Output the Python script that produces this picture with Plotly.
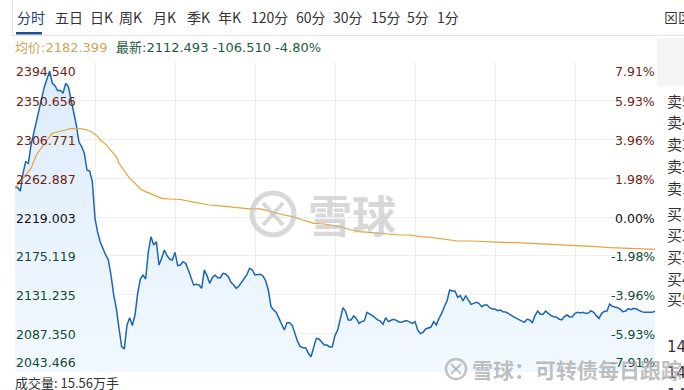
import plotly.graph_objects as go

# ---------------- data ----------------
prev_close = 2219.003
price_levels = [2043.466, 2087.350, 2131.235, 2175.119, 2219.003, 2262.887, 2306.771, 2350.656, 2394.540]
price_labels = ["2043.466", "2087.350", "2131.235", "2175.119", "2219.003", "2262.887", "2306.771", "2350.656", "2394.540"]
pct_labels = ["-7.91%", "-5.93%", "-3.96%", "-1.98%", "0.00%", "1.98%", "3.96%", "5.93%", "7.91%"]

minutes = list(range(241))
price = [
    2253.4, 2252.2, 2248.4, 2268.4, 2281.7, 2279.8, 2300.5, 2313.8, 2325.1, 2338.3,
    2353.4, 2366.6, 2375.3, 2384.3, 2370.4, 2367.7, 2362.1, 2362.5, 2359.1, 2370.4,
    2366.6, 2351.5, 2334.5, 2323.2, 2303.6, 2298.7, 2291.1, 2272.2, 2271.1, 2259.0,
    2217.5, 2201.6, 2190.3, 2182.4, 2176.0, 2170.3, 2153.3, 2130.7, 2115.6, 2093.0,
    2072.2, 2069.5, 2096.7, 2105.0, 2096.0, 2108.0, 2132.6, 2148.8, 2153.3, 2148.8,
    2179.7, 2196.7, 2187.3, 2191.1, 2164.6, 2172.2, 2181.6, 2175.2, 2171.4, 2170.3,
    2179.0, 2163.9, 2164.6, 2168.4, 2166.5, 2159.0, 2151.4, 2142.0, 2142.7, 2142.0,
    2138.2, 2159.0, 2152.6, 2143.9, 2150.3, 2153.3, 2150.3, 2150.3, 2155.2, 2154.5,
    2151.4, 2145.0, 2142.0, 2138.2, 2140.9, 2145.0, 2148.8, 2154.1, 2160.9, 2159.0,
    2153.3, 2153.3, 2154.1, 2152.2, 2146.5, 2136.3, 2117.4, 2113.7, 2111.0, 2104.2,
    2096.7, 2091.0, 2099.3, 2099.3, 2096.0, 2087.3, 2077.8, 2072.1, 2071.0, 2071.0,
    2064.6, 2060.8, 2070.3, 2081.6, 2080.8, 2077.8, 2074.0, 2074.0, 2071.8, 2072.1,
    2085.0, 2091.0, 2104.2, 2116.3, 2111.8, 2102.4, 2102.4, 2106.9, 2104.2, 2098.6,
    2100.5, 2101.6, 2111.0, 2109.5, 2107.3, 2105.0, 2102.4, 2101.2, 2097.4, 2105.0,
    2100.5, 2102.0, 2103.1, 2102.0, 2100.1, 2099.7, 2101.2, 2101.6, 2100.5, 2098.6,
    2100.5, 2091.0, 2086.9, 2088.4, 2092.2, 2093.7, 2094.4, 2100.5, 2096.7, 2104.2,
    2109.9, 2117.4, 2123.9, 2136.3, 2135.2, 2135.2, 2128.0, 2129.9, 2123.9, 2129.9,
    2125.0, 2120.1, 2121.2, 2122.4, 2121.2, 2117.4, 2119.3, 2119.3, 2116.3, 2114.8,
    2114.8, 2112.9, 2113.7, 2111.8, 2111.4, 2109.9, 2108.0, 2105.8, 2104.2, 2102.0,
    2100.5, 2099.7, 2103.1, 2102.4, 2099.3, 2107.3, 2112.5, 2108.8, 2108.8, 2112.5,
    2109.9, 2107.3, 2106.1, 2105.8, 2103.5, 2102.4, 2106.1, 2108.0, 2105.8, 2106.1,
    2109.9, 2111.0, 2110.3, 2111.0, 2109.9, 2110.3, 2112.9, 2111.0, 2107.3, 2104.2,
    2109.9, 2112.2, 2112.5, 2120.5, 2117.8, 2117.1, 2116.3, 2114.4, 2111.8, 2112.5,
    2115.2, 2114.0, 2115.5, 2114.8, 2112.9, 2111.8, 2111.0, 2111.0, 2111.0, 2111.0, 2112.493,
]

avg_minutes = [0, 3, 6, 8, 11, 13, 14, 17, 19, 21, 23, 25, 27, 29, 31, 32, 34, 36, 38, 39,
               41, 43, 45, 47, 49, 52, 55, 58, 62, 66, 69, 73, 77, 81, 84, 88, 92, 94, 97, 101,
               104, 108, 112, 116, 119, 122, 126, 129, 133, 137, 141, 144, 148, 152, 156, 159, 163, 166, 171, 176,
               179, 183, 188, 193, 198, 203, 208, 213, 218, 223, 228, 233, 240]
avg_price = [2251.5, 2262.8, 2274.1, 2289.2, 2302.4, 2310.0, 2313.8, 2315.6, 2317.5, 2319.4,
             2319.4, 2318.7, 2317.5, 2314.9, 2310.0, 2306.2, 2301.3, 2294.9, 2287.3, 2279.8,
             2271.1, 2262.8, 2257.1, 2250.7, 2247.7, 2243.9, 2240.1, 2239.4, 2238.8, 2236.4,
             2234.5, 2232.6, 2231.5, 2230.3, 2229.6, 2228.1, 2228.1, 2226.9, 2224.3, 2221.3,
             2219.4, 2215.6, 2211.8, 2211.1, 2209.2, 2208.1, 2204.3, 2202.4, 2201.6, 2200.5,
             2199.4, 2198.6, 2198.6, 2196.7, 2196.0, 2194.9, 2193.0, 2191.8, 2191.8, 2191.1,
             2190.3, 2190.3, 2189.9, 2189.2, 2188.1, 2187.3, 2187.3, 2186.5, 2185.4, 2184.3,
             2183.5, 2183.5, 2182.399]

tabs = ["分时", "五日", "日K", "周K", "月K", "季K", "年K", "120分", "60分", "30分", "15分", "5分", "1分"]
book_labels = ["卖5", "卖4", "卖3", "卖2", "卖1", "买1", "买2", "买3", "买4", "买5"]
legend_avg = "均价:2182.399"
legend_last = "最新:2112.493 -106.510 -4.80%"
volume_text = "成交量: 15.56万手"

# ---------------- layout geometry ----------------
W, H = 684, 390
L, R, T, B = 15, 29, 62, 18
PW, PH = W - L - R, H - T - B


def px(x, y):
    return (x - L) / PW, 1 - (y - T) / PH


NUM = "DejaVu Sans, Noto Sans CJK SC, sans-serif"
CJK = "Noto Sans CJK SC, sans-serif"
UP, DOWN = "#6e2414", "#124b30"

fig = go.Figure()
ymin, ymax = price_levels[0], price_levels[-1]

fig.add_trace(go.Scatter(x=minutes, y=[ymin] * len(minutes), mode="lines",
                         line=dict(width=0), hoverinfo="skip", showlegend=False))
fig.add_trace(go.Scatter(
    x=minutes, y=price, mode="lines", fill="tonexty",
    fillgradient=dict(type="vertical", start=ymin, stop=ymax,
                      colorscale=[[0, "#f2f8fe"], [1, "#dcecfa"]]),
    line=dict(color="#1a66b3", width=1.5), showlegend=False))
fig.add_trace(go.Scatter(x=avg_minutes, y=avg_price, mode="lines",
                         line=dict(color="#e6a23a", width=1.2), showlegend=False))

ann = []
# y labels
for i, (lv, pl, pc) in enumerate(zip(price_levels, price_labels, pct_labels)):
    col = UP if lv > prev_close + 1e-6 else (DOWN if lv < prev_close - 1e-6 else "#111111")
    if i == len(price_levels) - 1:
        ya, ys = "top", 0
    elif i == 0:
        ya, ys = "bottom", 0
    else:
        ya, ys = "middle", -1
    ann.append(dict(x=0, y=lv, xref="paper", yref="y", text=pl, showarrow=False,
                    xanchor="left", yanchor=ya, yshift=ys, xshift=-1,
                    font=dict(family=NUM, size=12.5, color=col)))
    ann.append(dict(x=1, y=lv, xref="paper", yref="y", text=pc, showarrow=False,
                    xanchor="right", yanchor=ya, yshift=ys, xshift=2,
                    font=dict(family=NUM, size=12.5, color=col)))

# legend line
ax, ay = px(13, 47)
ann.append(dict(x=ax, y=ay, xref="paper", yref="paper", text=legend_avg, showarrow=False,
                xanchor="left", yanchor="middle", font=dict(family=NUM, size=13, color="#c9a55c")))
ax, ay = px(114, 47)
ann.append(dict(x=ax, y=ay, xref="paper", yref="paper", text=legend_last, showarrow=False,
                xanchor="left", yanchor="middle", font=dict(family=NUM, size=13, color="#1d5b3f")))

# tabs
tab_x = [15, 53, 88, 117, 151, 185, 216, 249, 294, 331, 369, 405, 435]
for t, x in zip(tabs, tab_x):
    ax, ay = px(x, 17)
    ann.append(dict(x=ax, y=ay, xref="paper", yref="paper", text=t, showarrow=False,
                    xanchor="left", yanchor="middle",
                    font=dict(family=CJK, size=14, color="#1d3f6e" if t == "分时" else "#333333")))
ax, ay = px(662, 17)
ann.append(dict(x=ax, y=ay, xref="paper", yref="paper", text="⊠区", showarrow=False,
                xanchor="left", yanchor="middle", font=dict(family=CJK, size=14, color="#333333")))

# order book labels (right panel)
book_y = [101, 121, 143, 165, 187, 213, 234, 256, 278, 298]
for t, y in zip(book_labels, book_y):
    ax, ay = px(665, y)
    ann.append(dict(x=ax, y=ay, xref="paper", yref="paper", text=t, showarrow=False,
                    xanchor="left", yanchor="middle", font=dict(family=CJK, size=15, color="#333333")))
for y in [347, 373, 395]:
    ax, ay = px(665, y)
    ann.append(dict(x=ax, y=ay, xref="paper", yref="paper", text="14:", showarrow=False,
                    xanchor="left", yanchor="middle", font=dict(family=NUM, size=15, color="#333333")))

# volume
ax, ay = px(13, 382)
ann.append(dict(x=ax, y=ay, xref="paper", yref="paper", text=volume_text, showarrow=False,
                xanchor="left", yanchor="middle", font=dict(family=CJK, size=13, color="#333333")))

# watermarks
ax, ay = px(352, 214)
ann.append(dict(x=ax, y=ay, xref="paper", yref="paper", text="雪球", showarrow=False,
                xanchor="center", yanchor="middle",
                font=dict(family=CJK, size=44, color="rgba(190,190,190,0.6)", weight=700)))
ax, ay = px(470, 369)
ann.append(dict(x=ax, y=ay, xref="paper", yref="paper", text="雪球：可转债每日跟踪", showarrow=False,
                xanchor="left", yanchor="middle",
                font=dict(family=CJK, size=21, color="rgba(170,170,170,0.75)", weight=700)))

shapes = []


def rect(x0, y0, x1, y1, **kw):
    a0, b0 = px(x0, y0)
    a1, b1 = px(x1, y1)
    shapes.append(dict(type="rect", xref="paper", yref="paper", x0=a0, y0=b0, x1=a1, y1=b1, **kw))


def line(x0, y0, x1, y1, **kw):
    a0, b0 = px(x0, y0)
    a1, b1 = px(x1, y1)
    shapes.append(dict(type="line", xref="paper", yref="paper", x0=a0, y0=b0, x1=a1, y1=b1, **kw))


def circle(cx, cy, r, **kw):
    a0, b0 = px(cx - r, cy - r)
    a1, b1 = px(cx + r, cy + r)
    shapes.append(dict(type="circle", xref="paper", yref="paper", x0=a0, y0=b0, x1=a1, y1=b1, **kw))


line(12, 35.5, 684, 35.5, line=dict(color="#e2e2e2", width=1))
line(12.5, 0, 12.5, 35.5, line=dict(color="#e2e2e2", width=1))
rect(16, 32, 42, 34.5, line=dict(width=0), fillcolor="#1f4f8f")
rect(657, 38, 684, 86, line=dict(width=0), fillcolor="#f4f4f4")

# centre logo
circle(273, 214, 21, line=dict(color="rgba(195,195,195,0.65)", width=5))
line(263, 203, 283, 225, line=dict(color="rgba(195,195,195,0.65)", width=4))
line(263, 225, 283, 203, line=dict(color="rgba(195,195,195,0.65)", width=4))
# bottom logo
circle(456, 369, 10, line=dict(color="rgba(170,170,170,0.7)", width=2.5))
line(451, 364, 461, 374, line=dict(color="rgba(170,170,170,0.7)", width=2))
line(451, 374, 461, 364, line=dict(color="rgba(170,170,170,0.7)", width=2))

fig.update_layout(
    width=W, height=H, margin=dict(l=L, r=R, t=T, b=B),
    paper_bgcolor="white", plot_bgcolor="white",
    showlegend=False, annotations=ann, shapes=shapes,
    xaxis=dict(range=[0, 240], tickvals=list(range(0, 241, 30)), showticklabels=False,
               showgrid=True, gridcolor="#eeeeee", gridwidth=1, zeroline=False, showline=False, fixedrange=True),
    yaxis=dict(range=[ymin, ymax], tickvals=price_levels, showticklabels=False,
               showgrid=True, gridcolor="#eeeeee", gridwidth=1, zeroline=False, showline=False, fixedrange=True),
)

fig.write_html("out.html")
